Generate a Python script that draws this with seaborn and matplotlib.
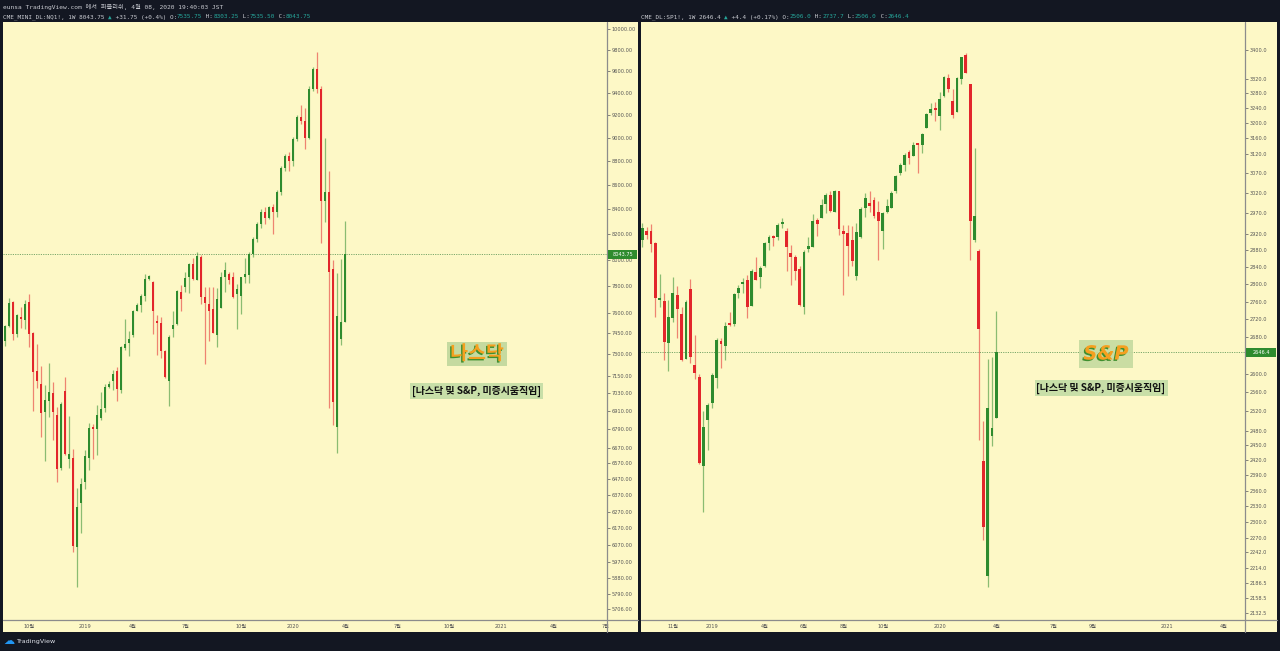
import numpy as np
import pandas as pd
import matplotlib
matplotlib.use('Agg')
import matplotlib.pyplot as plt
import matplotlib.dates as mdates
import matplotlib.ticker as mticker
import matplotlib.patheffects as pe
from matplotlib.lines import Line2D
from matplotlib.patches import Rectangle
import seaborn as sns

sns.set_style('white')
plt.rcParams['font.family'] = ['DejaVu Sans', 'Noto Sans CJK KR']
MONO = ['DejaVu Sans Mono', 'DejaVu Sans', 'Noto Sans CJK KR']

BG = '#131722'
PANEL = '#fdf8c6'
UP = '#2e8b2e'
DOWN = '#e2262b'
TEAL = '#26a69a'
TXT = '#c8cad0'
AXC = '#8c8c8c'

# ---- NQ1! weekly (starts week of 2018-08-20)
nq_open = [7397, 7506, 7679, 7444, 7572, 7548, 7679, 7451, 7185, 7094,
           6901, 6981, 7031, 6884, 6540, 7047, 6599, 6605, 6058, 6321,
           6455, 6605, 6801, 6791, 6867, 6930, 7072, 7116, 7184, 7054,
           7344, 7379, 7436, 7616, 7658, 7723, 7851, 7826, 7543, 7524,
           7325, 7116, 7480, 7517, 7755, 7795, 7864, 7965, 7841, 8024,
           7716, 7665, 7626, 7441, 7638, 7864, 7889, 7864, 7740, 7723,
           7864, 7879, 8045, 8160, 8280, 8380, 8330, 8420, 8380, 8540,
           8740, 8840, 8800, 8990, 9180, 9150, 9000, 9440, 9620, 9440,
           8470, 8540, 7930, 6806, 7409, 7535.75]
nq_high = [7511, 7711, 7687, 7592, 7645, 7694, 7740, 7463, 7374, 7219,
           7087, 7238, 7110, 6941, 6968, 7144, 6878, 6660, 6414, 6476,
           6656, 6834, 6823, 6952, 7042, 7094, 7116, 7191, 7214, 7360,
           7555, 7470, 7621, 7670, 7736, 7892, 7884, 7836, 7584, 7572,
           7332, 7436, 7616, 7770, 7806, 7907, 7978, 8011, 8063, 8037,
           7795, 7795, 7795, 7783, 7905, 7985, 7909, 7909, 7816, 7871,
           8011, 8058, 8180, 8300, 8400, 8420, 8430, 8440, 8560, 8760,
           8860, 8880, 9010, 9200, 9290, 9260, 9460, 9640, 9780, 9460,
           9000, 8720, 8000, 7899, 8006, 8303.25]
nq_low = [7360, 7495, 7402, 7426, 7487, 7480, 7355, 6914, 7065, 6739,
          6586, 6873, 6721, 6455, 6528, 6621, 6538, 6032, 5827, 6140,
          6409, 6528, 6597, 6623, 6851, 6907, 7065, 7054, 6975, 7031,
          7332, 7285, 7426, 7614, 7609, 7687, 7841, 7444, 7297, 7273,
          7133, 6947, 7426, 7511, 7616, 7753, 7750, 7841, 7841, 7665,
          7233, 7397, 7451, 7355, 7633, 7757, 7813, 7711, 7480, 7592,
          7821, 7821, 8020, 8140, 8250, 8280, 8320, 8200, 8340, 8520,
          8720, 8720, 8760, 8970, 9120, 8900, 8990, 9420, 9400, 8130,
          8300, 6932, 6818, 6636, 7368, 7535.5]
nq_close = [7504, 7670, 7444, 7582, 7557, 7663, 7446, 7178, 7114, 6899,
            6986, 7038, 6901, 6536, 6957, 6630, 6630, 6065, 6301, 6441,
            6616, 6801, 6793, 6884, 6923, 7072, 7094, 7161, 7060, 7351,
            7372, 7407, 7614, 7658, 7723, 7851, 7876, 7616, 7524, 7325,
            7140, 7426, 7511, 7762, 7702, 7859, 7968, 7851, 8029, 7716,
            7670, 7616, 7455, 7699, 7869, 7920, 7841, 7716, 7775, 7866,
            7889, 8045, 8160, 8280, 8380, 8330, 8420, 8380, 8540, 8740,
            8840, 8800, 8990, 9180, 9150, 9000, 9440, 9620, 9440, 8470,
            8540, 7907, 6972, 7577, 7533, 8043.75]

# ---- SP1! weekly (starts week of 2018-09-17)
es_open = [2905, 2927, 2926, 2897, 2765, 2762, 2668, 2724, 2776, 2732,
           2633, 2789, 2619, 2592, 2408, 2502, 2537, 2590, 2672, 2661,
           2709, 2710, 2779, 2801, 2811, 2751, 2828, 2818, 2842, 2897,
           2911, 2913, 2943, 2927, 2873, 2865, 2836, 2749, 2884, 2888,
           2954, 2958, 2993, 3014, 2974, 3026, 2927, 2922, 2905, 2820,
           2911, 2984, 2995, 3003, 2974, 2927, 2974, 2984, 3024, 3071,
           3091, 3125, 3115, 3147, 3143, 3188, 3227, 3241, 3218, 3272,
           3323, 3260, 3231, 3319, 3386, 3305, 2905, 2879, 2419, 2199,
           2470, 2506.0]
es_high = [2947, 2936, 2944, 2899, 2824, 2781, 2764, 2818, 2795, 2749,
           2764, 2813, 2685, 2599, 2521, 2537, 2602, 2679, 2678, 2715,
           2737, 2781, 2798, 2814, 2821, 2836, 2864, 2842, 2901, 2917,
           2917, 2945, 2958, 2933, 2893, 2869, 2842, 2881, 2913, 2968,
           2958, 3005, 3020, 3024, 3028, 3026, 2941, 2941, 2939, 2945,
           2986, 3020, 3024, 3010, 2999, 2974, 3005, 3024, 3066, 3095,
           3121, 3130, 3150, 3149, 3173, 3227, 3254, 3258, 3285, 3328,
           3332, 3291, 3324, 3381, 3391, 3307, 3136, 2883, 2500, 2632,
           2637, 2737.7]
es_low = [2889, 2907, 2877, 2726, 2747, 2630, 2606, 2715, 2679, 2628,
          2631, 2623, 2588, 2412, 2319, 2441, 2527, 2569, 2613, 2630,
          2705, 2705, 2768, 2779, 2724, 2751, 2811, 2791, 2840, 2881,
          2890, 2905, 2933, 2832, 2799, 2811, 2751, 2732, 2877, 2888,
          2914, 2958, 2970, 2972, 2972, 2918, 2776, 2820, 2844, 2811,
          2909, 2960, 2974, 2958, 2856, 2883, 2970, 2984, 3021, 3066,
          3076, 3094, 3114, 3071, 3121, 3187, 3222, 3207, 3182, 3270,
          3283, 3214, 3229, 3305, 3335, 2856, 2899, 2462, 2266, 2178,
          2449, 2506.0]
es_close = [2933, 2918, 2895, 2769, 2769, 2670, 2725, 2779, 2744, 2630,
            2760, 2637, 2602, 2414, 2488, 2534, 2597, 2674, 2665, 2706,
            2707, 2778, 2791, 2805, 2747, 2832, 2811, 2839, 2897, 2913,
            2909, 2941, 2948, 2887, 2863, 2832, 2753, 2876, 2890, 2951,
            2943, 2991, 3016, 2976, 3026, 2931, 2919, 2890, 2855, 2925,
            2980, 3007, 2989, 2963, 2951, 2971, 2989, 3021, 3063, 3090,
            3118, 3110, 3143, 3144, 3171, 3225, 3237, 3234, 3265, 3324,
            3292, 3223, 3323, 3380, 3337, 2952, 2964, 2698, 2290, 2527,
            2486, 2646.4]

nq_yticks = [10000, 9800, 9600, 9400, 9200, 9000, 8800, 8600, 8400, 8200, 8000,
             7800, 7600, 7450, 7300, 7150, 7030, 6910, 6790, 6670, 6570, 6470,
             6370, 6270, 6170, 6070, 5970, 5880, 5790, 5706]
es_yticks = [3400, 3320, 3280, 3240, 3200, 3160, 3120, 3070, 3020, 2970, 2920,
             2880, 2840, 2800, 2760, 2720, 2680, 2600, 2560, 2520, 2480, 2450,
             2420, 2390, 2360, 2330, 2300, 2270, 2242, 2214, 2186.5, 2158.5, 2132.5]

nq_xticks = ['2018-10-01', '2019-01-07', '2019-04-01', '2019-07-01', '2019-10-07', '2020-01-06',
             '2020-04-06', '2020-07-06', '2020-10-05', '2021-01-04', '2021-04-05', '2021-07-05']
nq_xlabels = ['10월', '2019', '4월', '7월', '10월', '2020', '4월', '7월', '10월', '2021', '4월', '7월']
es_xticks = ['2018-11-05', '2019-01-07', '2019-04-01', '2019-06-03', '2019-08-05', '2019-10-07',
             '2020-01-06', '2020-04-06', '2020-07-06', '2020-09-07', '2021-01-04', '2021-04-05']
es_xlabels = ['11월', '2019', '4월', '6월', '8월', '10월', '2020', '4월', '7월', '9월', '2021', '4월']

W, H = 1280, 651
fig = plt.figure(figsize=(12.8, 6.51), dpi=100, facecolor=BG)


def fx(x):
    return x / W


def fy(y):
    return 1 - y / H


def rect(x0, y0, x1, y1):
    return [fx(x0), fy(y1), (x1 - x0) / W, (y1 - y0) / H]


def candles(ax, start, o, h, l, c):
    df = pd.DataFrame({'open': o, 'high': h, 'low': l, 'close': c})
    df['date'] = pd.date_range(start, periods=len(df), freq='7D')
    x = mdates.date2num(df['date'])
    up = df['close'] >= df['open']
    col = np.where(up, UP, DOWN)
    ax.vlines(x, df['low'], df['high'], colors=col, linewidth=0.9, alpha=0.55, zorder=2)
    lo = df[['open', 'close']].min(axis=1)
    ht = np.maximum((df['close'] - df['open']).abs(), lo * 0.0015)
    ax.bar(x, ht, bottom=lo, width=4.6, color=col, linewidth=0, zorder=3)


def panel(x0, x1, xa, start, o, h, l, c, yticks, fmt, ylim, xlim, xticks, xlabels, last):
    bg = fig.add_axes(rect(x0, 22, x1, 632))
    bg.set_facecolor(PANEL)
    bg.set_xticks([])
    bg.set_yticks([])
    for s in bg.spines.values():
        s.set_visible(False)

    ax = fig.add_axes(rect(x0, 22, xa, 620))
    ax.patch.set_alpha(0)
    ax.set_yscale('log')
    candles(ax, start, o, h, l, c)
    ax.set_ylim(*ylim)
    ax.set_xlim(mdates.date2num(pd.Timestamp(xlim[0])), mdates.date2num(pd.Timestamp(xlim[1])))
    ax.yaxis.set_major_locator(mticker.FixedLocator(yticks))
    ax.yaxis.set_minor_locator(mticker.NullLocator())
    ax.yaxis.set_major_formatter(mticker.FuncFormatter(lambda v, p: fmt.format(v)))
    ax.yaxis.tick_right()
    ax.set_xticks(mdates.date2num(pd.to_datetime(xticks)))
    ax.set_xticklabels(xlabels)
    ax.tick_params(axis='y', labelsize=3.6, colors='#555555', length=2, width=0.5, pad=1.5)
    ax.tick_params(axis='x', labelsize=3.6, colors='#555555', length=2, width=0.5, pad=1)
    for s in ['top', 'left', 'right', 'bottom']:
        ax.spines[s].set_visible(False)
    ax.grid(False)
    ax.axhline(last, color='#7aa86a', ls=(0, (1.2, 1.2)), lw=0.7, zorder=1)

    # axis separators
    fig.add_artist(Line2D([fx(x0), fx(x1)], [fy(620), fy(620)], color=AXC, lw=0.9))
    fig.add_artist(Line2D([fx(xa), fx(xa)], [fy(22), fy(632)], color=AXC, lw=0.9))

    # last price tag
    ly = 22 + (np.log(ylim[1]) - np.log(last)) / (np.log(ylim[1]) - np.log(ylim[0])) * 598
    fig.add_artist(Rectangle((fx(xa + 0.5), fy(ly + 4.5)), (x1 - xa - 2) / W, 9 / H,
                             transform=fig.transFigure, facecolor=UP, edgecolor='none', zorder=5))
    fig.text(fx((xa + x1) / 2), fy(ly), fmt.format(last), color='white', fontsize=3.6,
             ha='center', va='center', zorder=6)
    return ax


panel(3, 638, 607, '2018-08-20', nq_open, nq_high, nq_low, nq_close,
      nq_yticks, '{:.2f}', (5646, 10068), ('2018-08-16 12:00', '2021-07-08'),
      nq_xticks, nq_xlabels, 8043.75)
panel(641, 1277, 1245, '2018-09-17', es_open, es_high, es_low, es_close,
      es_yticks, '{:.1f}', (2120, 3480), ('2018-09-15', '2021-05-09'),
      es_xticks, es_xlabels, 2646.4)

# headers
rend = fig.canvas.get_renderer()


def seg_line(x, y, parts, size=4.3):
    for s, col in parts:
        t = fig.text(fx(x), fy(y), s, color=col, fontsize=size, family=MONO, ha='left', va='center')
        x += t.get_window_extent(renderer=rend).width


seg_line(3, 7, [('eunsa TradingView.com 에서 퍼블리쉬, 4월 08, 2020 19:40:03 JST', TXT)], size=4.5)
seg_line(3, 17, [('CME_MINI_DL:NQ1!, 1W 8043.75 ', TXT), ('▲', TEAL), (' +31.75 (+0.4%) O:', TXT),
                 ('7535.75', TEAL), (' H:', TXT), ('8303.25', TEAL), (' L:', TXT),
                 ('7535.50', TEAL), (' C:', TXT), ('8043.75', TEAL)])
seg_line(641, 17, [('CME_DL:SP1!, 1W 2646.4 ', TXT), ('▲', TEAL), (' +4.4 (+0.17%) O:', TXT),
                   ('2506.0', TEAL), (' H:', TXT), ('2737.7', TEAL), (' L:', TXT),
                   ('2506.0', TEAL), (' C:', TXT), ('2646.4', TEAL)])

# annotations
shadow = [pe.withSimplePatchShadow(offset=(-1, -1), shadow_rgbFace='#3f8f2f', alpha=1.0)]
fig.text(fx(477), fy(354), '나스닥', fontsize=14, weight='bold', color='#f5a020',
         family=['Noto Sans CJK KR'], ha='center', va='center', path_effects=shadow,
         bbox=dict(boxstyle='square,pad=0.15', fc='#c5daa0', ec='none'))
fig.text(fx(1106), fy(354), 'S&P', fontsize=14, weight='bold', style='italic', color='#f5a020',
         family=['DejaVu Sans'], ha='center', va='center', path_effects=shadow,
         bbox=dict(boxstyle='square,pad=0.25', fc='#c5daa0', ec='none', alpha=0.9))
sub = '[나스닥 및 S&P, 미증시움직임]'
for cx, cy in [(476, 391), (1101, 388)]:
    fig.text(fx(cx), fy(cy), sub, fontsize=7.2, weight='bold', color='#111111',
             family=['Noto Sans CJK KR'], ha='center', va='center',
             bbox=dict(boxstyle='square,pad=0.2', fc='#c8dfa8', ec='none'))

# footer logo
fig.text(fx(3), fy(641), '☁', color='#2196f3', fontsize=8, ha='left', va='center', family=['DejaVu Sans'])
fig.text(fx(16), fy(641), 'TradingView', color='#e0e3eb', fontsize=4.6, ha='left', va='center')

plt.savefig('out.png', dpi=100, facecolor=BG)
